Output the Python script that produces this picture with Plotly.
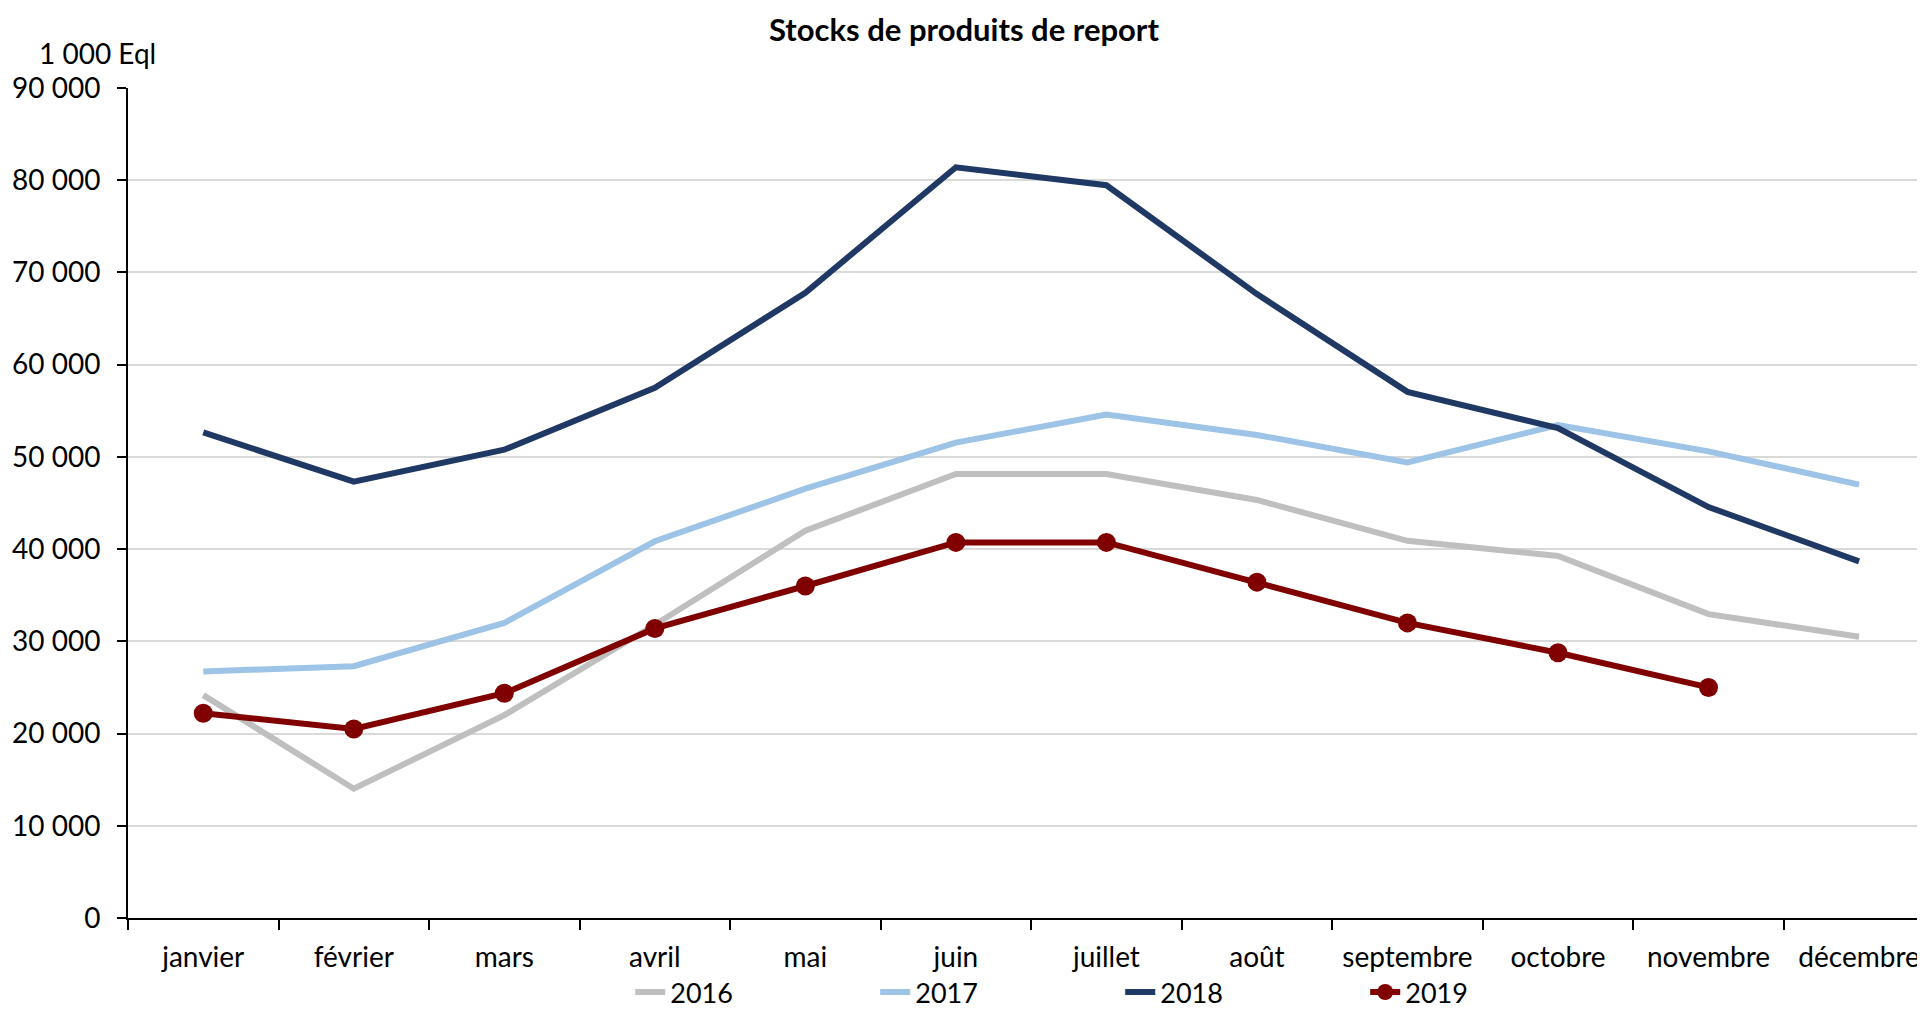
import plotly.graph_objects as go

months = ["janvier", "février", "mars", "avril", "mai", "juin", "juillet",
          "août", "septembre", "octobre", "novembre", "décembre"]

s2016 = [24170, 14020, 22000, 31800, 42000, 48140, 48150, 45330, 40900, 39250, 32950, 30500]
s2017 = [26730, 27310, 32000, 40850, 46550, 51550, 54580, 52380, 49400, 53450, 50600, 47000]
s2018 = [52650, 47320, 50780, 57500, 67800, 81400, 79460, 67650, 57050, 53130, 44560, 38670]
s2019 = [22200, 20490, 24370, 31400, 36000, 40730, 40730, 36420, 32000, 28760, 25000]

y_tickvals = [0, 10000, 20000, 30000, 40000, 50000, 60000, 70000, 80000, 90000]
y_ticktext = ["0", "10 000", "20 000", "30 000", "40 000", "50 000",
              "60 000", "70 000", "80 000", "90 000"]

FONT = "Lato, 'Open Sans', sans-serif"

# the page adds an 8px body margin; figure is sized so it ends at the window edge
W, H = 1917, 1002
L, T, B = 119.7, 80, 91.5
PW, PH = W - L, H - T - B

fig = go.Figure()
fig.add_trace(go.Scatter(x=months, y=s2016, name="2016", mode="lines",
                         line=dict(color="#BFBFBF", width=6)))
fig.add_trace(go.Scatter(x=months, y=s2017, name="2017", mode="lines",
                         line=dict(color="#9DC3E6", width=6)))
fig.add_trace(go.Scatter(x=months, y=s2018, name="2018", mode="lines",
                         line=dict(color="#1F3864", width=6)))
fig.add_trace(go.Scatter(x=months[:len(s2019)], y=s2019, name="2019", mode="lines+markers",
                         line=dict(color="#800000", width=6),
                         marker=dict(color="#800000", size=19)))

fig.update_layout(
    width=W, height=H,
    paper_bgcolor="white", plot_bgcolor="white",
    margin=dict(l=L, r=0, t=T, b=B, autoexpand=False),
    font=dict(family=FONT, size=28, color="black"),
    title=dict(text="<b>Stocks de produits de report</b>", x=956 / W, xanchor="center",
               y=1 - 22 / H, yanchor="middle", yref="container",
               font=dict(family=FONT, size=31, color="black")),
    showlegend=True,
    legend=dict(orientation="h", x=(630 - 127.7) / PW, xanchor="left",
                y=(PH - (985 - T)) / PH, yanchor="middle", entrywidth=200,
                font=dict(family=FONT, size=27, color="black"),
                bgcolor="rgba(0,0,0,0)"),
    xaxis=dict(type="category", range=[-0.5, -0.5 + PW / 150.55],
               showline=True, linecolor="black", linewidth=2,
               ticks="outside", ticklen=10, tickwidth=1.5, tickcolor="black",
               tickson="boundaries", showgrid=False, zeroline=False,
               ticklabelstandoff=13,
               tickfont=dict(family=FONT, size=28, color="black")),
    yaxis=dict(range=[0, 90000], tickvals=y_tickvals, ticktext=y_ticktext,
               showline=True, linecolor="black", linewidth=2,
               ticks="outside", ticklen=9, tickwidth=1.5, tickcolor="black",
               showgrid=True, gridcolor="#D9D9D9", gridwidth=1.5,
               zeroline=False, ticklabelstandoff=11,
               tickfont=dict(family=FONT, size=28, color="black")),
    annotations=[dict(text="1 000 Eql", xref="paper", yref="paper",
                      x=(37 - 127.7) / PW, xanchor="left",
                      y=(PH - (53 - 8 - T)) / PH, yanchor="middle",
                      showarrow=False, font=dict(family=FONT, size=28, color="black"))],
)

fig.write_html("out.html")
